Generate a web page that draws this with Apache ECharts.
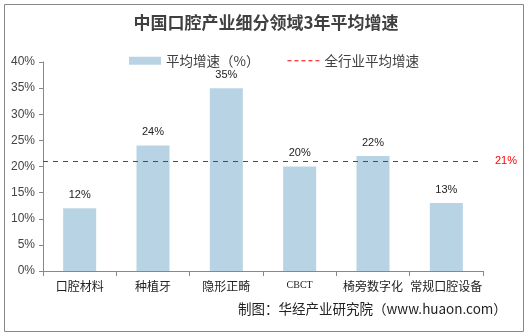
<!DOCTYPE html>
<html><head><meta charset="utf-8">
<script src="https://cdn.jsdelivr.net/npm/echarts@6/dist/echarts.min.js"></script>
<style>html,body{margin:0;padding:0;background:#fff}#c{width:532px;height:334px}</style>
</head><body><div id="c"></div>
<script>
const categories = ['口腔材料','种植牙','隐形正畸','CBCT','椅旁数字化','常规口腔设备'];
const growth = [12, 24, 35, 20, 22, 13];
const industryAvg = 21;
const yTicks = [0, 5, 10, 15, 20, 25, 30, 35, 40];

const dashIcon = 'path://M0,0h0.01v0.01h-0.01z M32,8h0.01v0.01h-0.01z M0,3.5h4v1h-4z M7,3.5h4v1h-4z M14,3.5h4v1h-4z M21,3.5h4v1h-4z M28,3.5h4v1h-4z';

const chart = echarts.init(document.getElementById('c'));
chart.setOption({
  animation: false,
  backgroundColor: '#fff',
  title: {
    text: '中国口腔产业细分领域3年平均增速',
    left: 'center', top: 9,
    textStyle: {fontFamily: 'Noto Sans CJK SC', fontSize: 17, fontWeight: 'bold', color: '#404040'}
  },
  legend: {
    top: 49, left: 124, itemGap: 28, itemWidth: 32, itemHeight: 8,
    textStyle: {fontFamily: 'Noto Sans CJK SC', fontSize: 13.5, color: '#404040'},
    data: [
      {name: '平均增速（%）', icon: 'rect'},
      {name: '全行业平均增速', icon: dashIcon, itemStyle: {color: '#FF0000'}}
    ]
  },
  grid: {left: 43, right: 49, top: 62, bottom: 63},
  xAxis: {
    type: 'category', data: categories,
    axisLine: {lineStyle: {color: '#888', width: 1}},
    axisTick: {show: true, lineStyle: {color: '#888'}, alignWithLabel: false},
    axisLabel: {
      interval: 0,
      color: '#222', fontSize: 12, fontFamily: 'Noto Sans CJK SC', margin: 9,
      formatter: v => v === 'CBCT' ? '{s|CBCT}' : v,
      rich: {s: {fontFamily: 'Liberation Serif', fontSize: 10, color: '#222'}}
    }
  },
  yAxis: {
    type: 'value', min: 0, max: 40, interval: 5,
    axisLine: {show: true, lineStyle: {color: '#888'}},
    axisTick: {show: true, inside: false, length: 4, lineStyle: {color: '#888'}},
    splitLine: {show: false},
    axisLabel: {color: '#444', fontSize: 12, fontFamily: 'Liberation Sans', margin: 8,
      formatter: v => yTicks.includes(v) ? v + '%' : ''}
  },
  series: [
    {
      name: '平均增速（%）', type: 'bar', data: growth, barWidth: 33,
      itemStyle: {color: '#B8D3E4'},
      label: {show: true, position: 'top', formatter: '{c}%', color: '#222', fontSize: 11, fontFamily: 'Liberation Sans', distance: 8},
      markLine: {
        silent: true, symbol: ['none', 'none'],
        lineStyle: {color: '#FF0000', type: [5, 5], width: 1, opacity: 1},
        label: {show: true, position: 'end', formatter: industryAvg + '%', color: '#FF0000', fontSize: 11, fontFamily: 'Liberation Sans', distance: 12},
        emphasis: {disabled: true},
        data: [{yAxis: industryAvg, lineStyle: {color: '#FF0000'}}]
      }
    },
    {
      name: '全行业平均增速', type: 'line', data: [], symbol: 'none',
      lineStyle: {color: '#FF0000', type: 'dashed', width: 1},
      itemStyle: {color: '#FF0000'}
    }
  ],
  graphic: [
    {type: 'rect', left: 2, top: 2, shape: {width: 519, height: 327}, style: {fill: 'none', stroke: '#888', lineWidth: 1}, silent: true},
    {type: 'text', left: 238, top: 302, style: {text: '制图：华经产业研究院（www.huaon.com）', fontFamily: 'Noto Sans CJK SC', fontSize: 13.5, fill: '#222'}}
  ]
});
</script></body></html>
